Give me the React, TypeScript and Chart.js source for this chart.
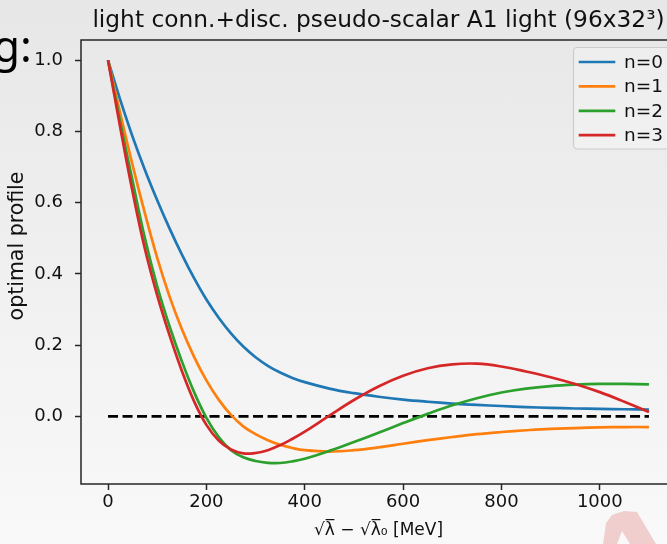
import React, { useEffect, useRef } from "react";
import { Chart, registerables } from "chart.js";

Chart.register(...registerables);

// ---- data ----
const xValues = [0, 25, 50, 75, 100, 125, 150, 175, 200, 225, 250, 275, 300, 325, 350, 375, 400, 450, 500, 550, 600, 650, 700, 750, 800, 850, 900, 950, 1000, 1050, 1100];
const seriesN0 = [1.0, 0.888, 0.785, 0.692, 0.607, 0.528, 0.455, 0.388, 0.328, 0.277, 0.233, 0.196, 0.166, 0.142, 0.123, 0.108, 0.096, 0.078, 0.065, 0.055, 0.047, 0.041, 0.036, 0.032, 0.029, 0.026, 0.024, 0.022, 0.021, 0.02, 0.019];
const seriesN1 = [1.0, 0.85, 0.705, 0.57, 0.445, 0.337, 0.245, 0.167, 0.101, 0.047, 0.004, -0.028, -0.05, -0.067, -0.08, -0.089, -0.095, -0.099, -0.095, -0.087, -0.077, -0.067, -0.058, -0.05, -0.044, -0.039, -0.035, -0.033, -0.031, -0.03, -0.03];
const seriesN2 = [1.0, 0.825, 0.66, 0.5, 0.365, 0.253, 0.155, 0.068, -0.004, -0.058, -0.095, -0.115, -0.1255, -0.1305, -0.131, -0.1265, -0.119, -0.097, -0.072, -0.046, -0.019, 0.007, 0.031, 0.051, 0.067, 0.078, 0.085, 0.089, 0.091, 0.091, 0.09];
const seriesN3 = [1.0, 0.81, 0.63, 0.47, 0.34, 0.228, 0.128, 0.042, -0.024, -0.068, -0.093, -0.104, -0.103, -0.095, -0.081, -0.063, -0.043, 0.002, 0.046, 0.084, 0.114, 0.135, 0.146, 0.148, 0.14, 0.126, 0.11, 0.091, 0.068, 0.041, 0.012];
const seriesLabels = ["n=0", "n=1", "n=2", "n=3"];
const seriesColors = ["#1f77b4", "#ff7f0e", "#2ca02c", "#d62728"];
const zeroLineX = [0, 1100];
const zeroLineY = [0, 0];
const xTicks = [0, 200, 400, 600, 800, 1000];
const yTicks = [0.0, 0.2, 0.4, 0.6, 0.8, 1.0];
const titleText = "light conn.+disc. pseudo-scalar A1 light (96x32\u00B3)";
const xAxisLabel = "\u221A\u03BB\u0305 \u2212 \u221A\u03BB\u0305\u2080 [MeV]";
const yAxisLabel = "optimal profile";

const FONT = "'DejaVu Sans', sans-serif";

const framePlugin = {
  id: "frame",
  afterDatasetsDraw(chart: any) {
    const { ctx, chartArea: a } = chart;
    ctx.save();
    ctx.strokeStyle = "#262626";
    ctx.lineWidth = 1.5;
    ctx.strokeRect(a.left, a.top, a.right - a.left, a.bottom - a.top);
    ctx.restore();
  },
};

const textPlugin = {
  id: "mplText",
  afterDraw(chart: any) {
    const { ctx, chartArea: a } = chart;
    ctx.save();
    ctx.fillStyle = "#111111";
    ctx.textAlign = "center";
    ctx.textBaseline = "alphabetic";
    ctx.font = "23.3px " + FONT;
    ctx.fillText(titleText, (a.left + a.right) / 2, 27);
    ctx.translate(23, 246);
    ctx.rotate(-Math.PI / 2);
    ctx.font = "20.5px " + FONT;
    ctx.fillText(yAxisLabel, 0, 0);
    ctx.restore();
  },
};

const legendPlugin = {
  id: "mplLegend",
  afterDraw(chart: any) {
    const { ctx } = chart;
    const bx = 573.5;
    const by = 47.5;
    const bw = 130;
    const bh = 101.5;
    const r = 4;
    ctx.save();
    ctx.beginPath();
    ctx.moveTo(bx + r, by);
    ctx.lineTo(bx + bw - r, by);
    ctx.arcTo(bx + bw, by, bx + bw, by + r, r);
    ctx.lineTo(bx + bw, by + bh - r);
    ctx.arcTo(bx + bw, by + bh, bx + bw - r, by + bh, r);
    ctx.lineTo(bx + r, by + bh);
    ctx.arcTo(bx, by + bh, bx, by + bh - r, r);
    ctx.lineTo(bx, by + r);
    ctx.arcTo(bx, by, bx + r, by, r);
    ctx.closePath();
    ctx.fillStyle = "rgba(255,255,255,0.25)";
    ctx.fill();
    ctx.strokeStyle = "#cccccc";
    ctx.lineWidth = 1.2;
    ctx.stroke();
    ctx.font = "18.5px " + FONT;
    ctx.textBaseline = "middle";
    ctx.textAlign = "left";
    const rowH = 24.4;
    for (let i = 0; i < seriesLabels.length; i++) {
      const y = 62 + i * rowH;
      ctx.strokeStyle = seriesColors[i];
      ctx.lineWidth = 2.7;
      ctx.beginPath();
      ctx.moveTo(578.7, y);
      ctx.lineTo(615.3, y);
      ctx.stroke();
      ctx.fillStyle = "#111111";
      ctx.fillText(seriesLabels[i], 624, y + 1);
    }
    ctx.restore();
  },
};

export default function App() {
  const canvasRef = useRef<HTMLCanvasElement | null>(null);

  useEffect(() => {
    const canvas = canvasRef.current;
    if (!canvas) return;
    const seriesValues = [seriesN0, seriesN1, seriesN2, seriesN3];
    const datasets: any[] = seriesValues.map((vals, i) => ({
      label: seriesLabels[i],
      data: xValues.map((x, j) => ({ x, y: vals[j] })),
      borderColor: seriesColors[i],
      backgroundColor: seriesColors[i],
      borderWidth: 2.7,
      pointRadius: 0,
      tension: 0.4,
      fill: false,
      order: 4 - i,
    }));
    datasets.push({
      label: "zero",
      data: zeroLineX.map((x, j) => ({ x, y: zeroLineY[j] })),
      borderColor: "#000000",
      borderWidth: 2.7,
      borderDash: [10, 4.5],
      pointRadius: 0,
      fill: false,
      order: 10,
    });

    const chart = new Chart(canvas, {
      type: "line",
      data: { datasets },
      plugins: [framePlugin, textPlugin, legendPlugin],
      options: {
        animation: false,
        responsive: false,
        maintainAspectRatio: false,
        layout: { padding: { left: 0, right: 24, top: 40, bottom: 0 } },
        plugins: {
          legend: { display: false },
          tooltip: { enabled: false },
          title: { display: false },
        },
        scales: {
          x: {
            type: "linear",
            min: -55,
            max: 1155,
            afterFit(scale: any) {
              scale.height = 60;
            },
            afterBuildTicks(scale: any) {
              scale.ticks = xTicks.map((v) => ({ value: v }));
            },
            ticks: {
              color: "#111111",
              font: { family: FONT, size: 18 },
              padding: 2,
              maxRotation: 0,
              autoSkip: false,
              callback: (v: any) => String(v),
            },
            grid: {
              display: true,
              drawOnChartArea: false,
              drawTicks: true,
              tickLength: 6,
              tickWidth: 1.5,
              tickColor: "#262626",
            },
            border: { display: false },
            title: {
              display: true,
              text: xAxisLabel,
              color: "#111111",
              font: { family: FONT, size: 17 },
              padding: { top: 0, bottom: 3 },
            },
          },
          y: {
            type: "linear",
            min: -0.19,
            max: 1.057,
            afterFit(scale: any) {
              scale.width = 81;
            },
            afterBuildTicks(scale: any) {
              scale.ticks = yTicks.map((v) => ({ value: v }));
            },
            ticks: {
              color: "#111111",
              font: { family: FONT, size: 18 },
              padding: 12,
              autoSkip: false,
              callback: (v: any) => Number(v).toFixed(1),
            },
            grid: {
              display: true,
              drawOnChartArea: false,
              drawTicks: true,
              tickLength: 6,
              tickWidth: 1.5,
              tickColor: "#262626",
            },
            border: { display: false },
            title: { display: false },
          },
        },
      },
    });
    return () => {
      chart.destroy();
    };
  }, []);

  return (
    <div
      style={{
        position: "fixed",
        left: 0,
        top: 0,
        width: 667,
        height: 544,
        overflow: "hidden",
        background: "linear-gradient(to bottom, #e7e7e7 0%, #f9f9f9 100%)",
      }}
    >
      <canvas ref={canvasRef} width={700} height={544} style={{ position: "absolute", left: 0, top: 0, width: 700, height: 544 }} />
      <div
        style={{
          position: "absolute",
          left: -7,
          top: 23,
          fontFamily: "'Noto Sans', sans-serif",
          fontSize: 44,
          lineHeight: "44px",
          color: "#000",
        }}
      >
        g:
      </div>
      <div
        style={{
          position: "absolute",
          left: 0,
          top: 0,
          width: 667,
          height: 544,
          background: "rgba(214,80,80,0.25)",
          clipPath: "polygon(603px 544px, 606px 523px, 612px 515px, 624px 511px, 637px 512px, 656px 544px, 630px 544px, 622px 531px, 617px 544px)",
          pointerEvents: "none",
        }}
      />
    </div>
  );
}
